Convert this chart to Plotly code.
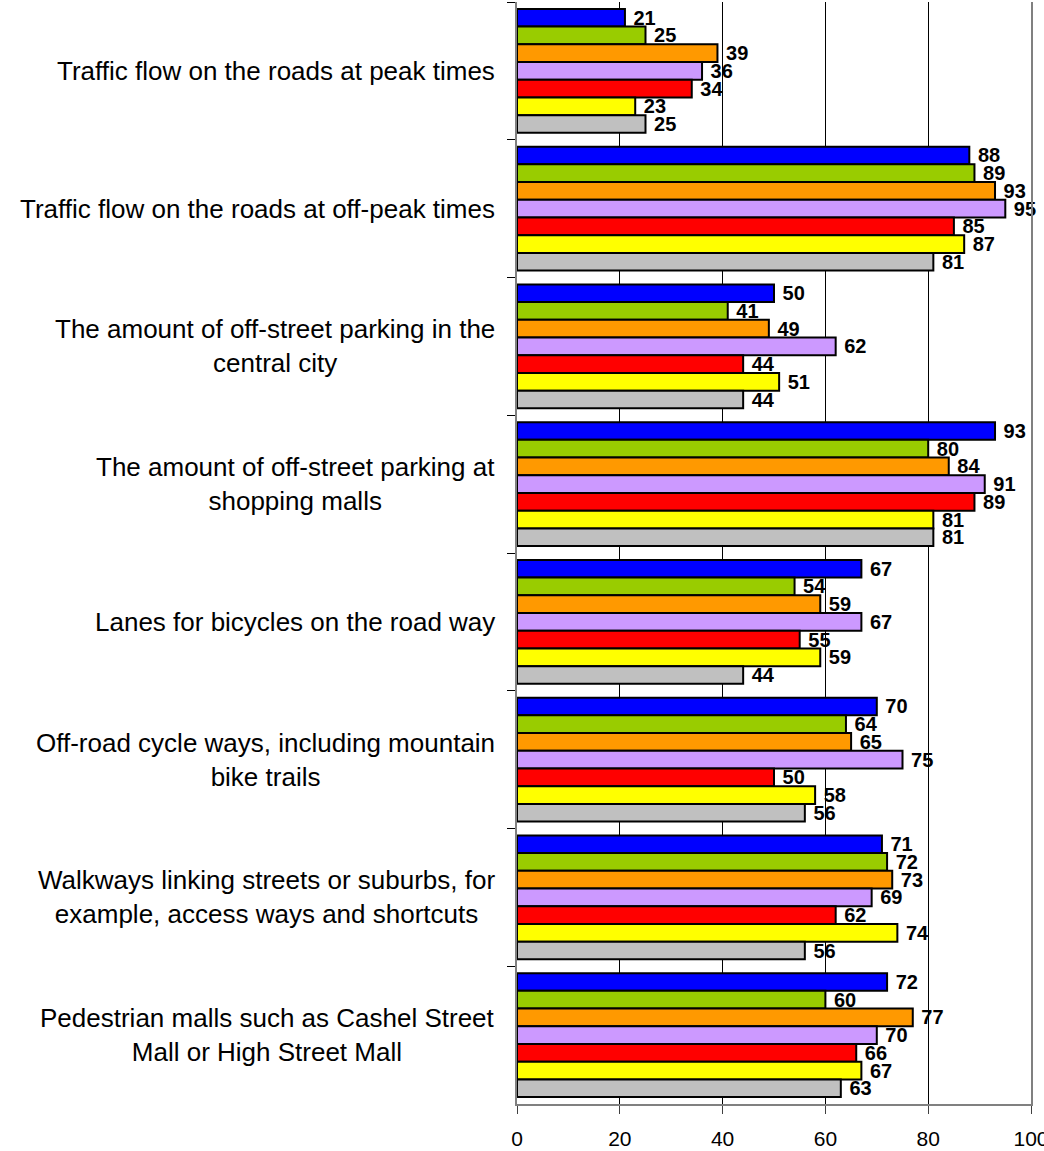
import plotly.graph_objects as go

categories = [
    "Traffic flow on the roads at peak times",
    "Traffic flow on the roads at off-peak times",
    "The amount of off-street parking in the<br>central city",
    "The amount of off-street parking at<br>shopping malls",
    "Lanes for bicycles on the road way",
    "Off-road cycle ways, including mountain<br>bike trails",
    "Walkways linking streets or suburbs, for<br>example, access ways and shortcuts",
    "Pedestrian malls such as Cashel Street<br>Mall or High Street Mall",
]

series_1 = [21, 88, 50, 93, 67, 70, 71, 72]
series_2 = [25, 89, 41, 80, 54, 64, 72, 60]
series_3 = [39, 93, 49, 84, 59, 65, 73, 77]
series_4 = [36, 95, 62, 91, 67, 75, 69, 70]
series_5 = [34, 85, 44, 89, 55, 50, 62, 66]
series_6 = [23, 87, 51, 81, 59, 58, 74, 67]
series_7 = [25, 81, 44, 81, 44, 56, 56, 63]

series = [series_1, series_2, series_3, series_4, series_5, series_6, series_7]
colors = ["#0000FF", "#99CC00", "#FF9900", "#CC99FF", "#FF0000", "#FFFF00", "#C0C0C0"]

x_ticks = [0, 20, 40, 60, 80, 100]

FONT = "Liberation Sans"

fig = go.Figure()
for vals, col in zip(series, colors):
    fig.add_trace(go.Bar(
        y=categories,
        x=vals,
        orientation="h",
        marker=dict(color=col, line=dict(color="black", width=2)),
        texttemplate="\u00a0%{x}",
        textposition="outside",
        constraintext="none",
        textfont=dict(family=FONT, size=20, color="black", weight="bold"),
        cliponaxis=False,
        showlegend=False,
    ))

# category labels, centred multi-line text to the left of the axis
for cat in categories:
    fig.add_annotation(
        x=0, xref="paper", xanchor="right", xshift=-20,
        y=cat, yref="y", yanchor="middle",
        text=cat, showarrow=False, align="center",
        font=dict(family=FONT, size=26, color="black"),
    )

fig.update_layout(
    width=1044, height=1151,
    margin=dict(l=517, r=13, t=2, b=47),
    paper_bgcolor="white", plot_bgcolor="white",
    barmode="group", bargap=0.1, bargroupgap=0,
    font=dict(family=FONT, color="black"),
)

fig.update_xaxes(
    range=[0, 100], tickvals=x_ticks, ticktext=[str(t) for t in x_ticks],
    showgrid=True, gridcolor="black", gridwidth=1,
    ticks="outside", ticklen=8, tickcolor="#404040", tickwidth=1,
    showline=True, linecolor="#808080", linewidth=2,
    tickfont=dict(family=FONT, size=21, color="black"),
    ticklabeloverflow="allow", ticklabelstandoff=7,
    automargin=False,
    zeroline=False,
)

fig.update_yaxes(
    type="category", categoryorder="array", categoryarray=categories,
    autorange="reversed", showticklabels=False,
    ticks="outside", tickson="boundaries", ticklen=8, tickcolor="black", tickwidth=1,
    showline=True, linecolor="#808080", linewidth=2, mirror=True,
    showgrid=False, zeroline=False, automargin=False,
)

fig.write_html("out.html")
